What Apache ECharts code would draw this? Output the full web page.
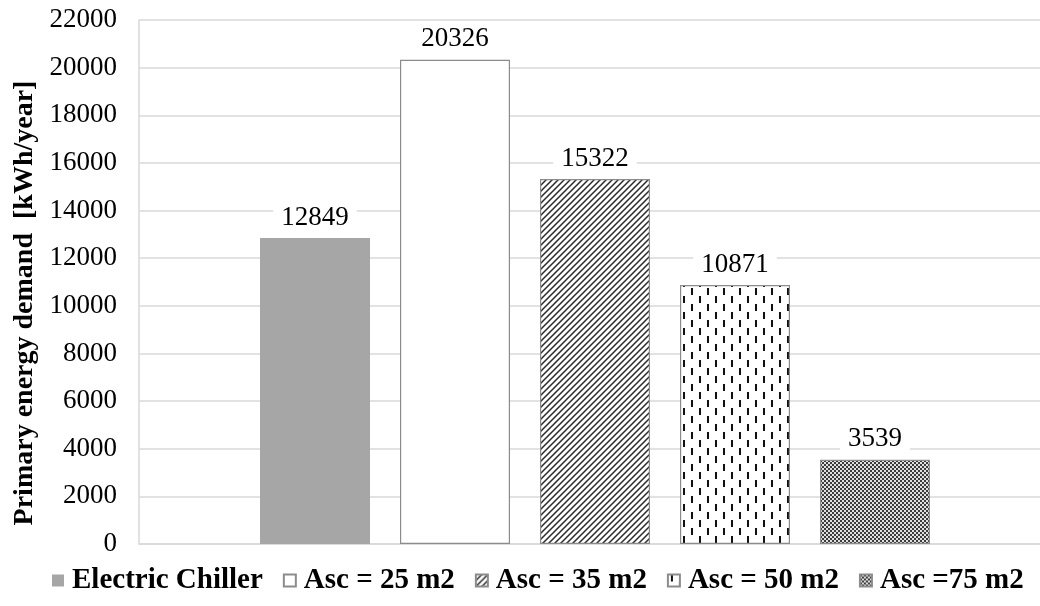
<!DOCTYPE html>
<html>
<head>
<meta charset="utf-8">
<script src="https://cdn.jsdelivr.net/npm/echarts@6/dist/echarts.min.js"></script>
<style>
html,body{margin:0;padding:0;background:#fff;}
#chart{width:1040px;height:606px;}
</style>
</head>
<body>
<div id="chart"></div>
<script>
const categories = [''];
const seriesNames = ['Electric Chiller', 'Asc = 25 m2', 'Asc = 35 m2', 'Asc = 50 m2', 'Asc =75 m2'];
const seriesValues = [12849, 20326, 15322, 10871, 3539];
const yTicks = { min: 0, max: 22000, interval: 2000 };
const yAxisTitle = 'Primary energy demand  [kWh/year]';

function makeCanvas(w, h, draw) {
  const c = document.createElement('canvas');
  c.width = w; c.height = h;
  const ctx = c.getContext('2d');
  draw(ctx, w, h);
  return c;
}
const diagPattern = makeCanvas(6, 6, (ctx, w, h) => {
  ctx.fillStyle = '#fff'; ctx.fillRect(0, 0, w, h);
  ctx.strokeStyle = '#2a2a2a'; ctx.lineWidth = 1.5;
  ctx.beginPath();
  ctx.moveTo(-1, h + 1); ctx.lineTo(w + 1, -1);
  ctx.moveTo(-1 - w, h + 1); ctx.lineTo(1, -1);
  ctx.moveTo(w - 1, h + 1); ctx.lineTo(2 * w + 1, -1);
  ctx.stroke();
});
const dashPattern = makeCanvas(16, 16, (ctx, w, h) => {
  ctx.fillStyle = '#fff'; ctx.fillRect(0, 0, w, h);
  ctx.fillStyle = '#111';
  ctx.fillRect(3, 0, 2, 7);
  ctx.fillRect(11, 8, 2, 7);
});
const checkPattern = makeCanvas(4, 4, (ctx, w, h) => {
  ctx.fillStyle = '#e0e0e0'; ctx.fillRect(0, 0, w, h);
  ctx.fillStyle = '#3c3c3c';
  ctx.fillRect(0, 0, 2, 2);
  ctx.fillRect(2, 2, 2, 2);
});

const styles = [
  { color: '#a6a6a6', borderColor: '#a6a6a6', borderWidth: 0 },
  { color: '#ffffff', borderColor: '#8c8c8c', borderWidth: 1.2 },
  { color: { image: diagPattern, repeat: 'repeat' }, borderColor: '#8c8c8c', borderWidth: 1.2 },
  { color: { image: dashPattern, repeat: 'repeat' }, borderColor: '#8c8c8c', borderWidth: 1.2 },
  { color: { image: checkPattern, repeat: 'repeat' }, borderColor: '#8c8c8c', borderWidth: 1.2 }
];

const FONT = '"Liberation Serif", "Times New Roman", serif';

const series = seriesNames.map((name, i) => ({
  name: name,
  type: 'bar',
  data: [seriesValues[i]],
  barWidth: 110,
  barGap: '27.27%',
  itemStyle: styles[i],
  label: {
    show: true,
    position: 'top',
    distance: 6,
    color: '#000',
    fontFamily: FONT,
    fontSize: 27,
    backgroundColor: '#fff',
    padding: [1, 8]
  }
}));

const chart = echarts.init(document.getElementById('chart'), null, { renderer: 'canvas' });
chart.setOption({
  animation: false,
  backgroundColor: '#fff',
  grid: { left: 139, top: 20, width: 912, height: 524, containLabel: false, outerBoundsMode: 'none' },
  legend: {
    bottom: 6,
    left: 47,
    itemWidth: 12,
    itemHeight: 12,
    itemGap: 20,
    icon: 'rect',
    textStyle: { fontFamily: FONT, fontSize: 29, fontWeight: 'bold', color: '#000', padding: [0, 0, 0, 3] },
    data: seriesNames
  },
  xAxis: {
    type: 'category',
    data: categories,
    axisLine: { show: true, lineStyle: { color: '#d9d9d9', width: 1.5 } },
    axisTick: { show: false },
    axisLabel: { show: false }
  },
  yAxis: {
    type: 'value',
    min: yTicks.min,
    max: yTicks.max,
    interval: yTicks.interval,
    name: yAxisTitle,
    nameLocation: 'middle',
    nameGap: 96,
    nameTextStyle: { fontFamily: FONT, fontSize: 28, fontWeight: 'bold', color: '#000', padding: [0, 42, 0, 0] },
    axisLine: { show: true, lineStyle: { color: '#d9d9d9', width: 1.5 } },
    axisTick: { show: false },
    axisLabel: { fontFamily: FONT, fontSize: 27, color: '#000', margin: 22, formatter: v => String(v) },
    splitLine: { show: true, lineStyle: { color: '#d9d9d9', width: 1.5 } }
  },
  series: series
});
</script>
</body>
</html>
